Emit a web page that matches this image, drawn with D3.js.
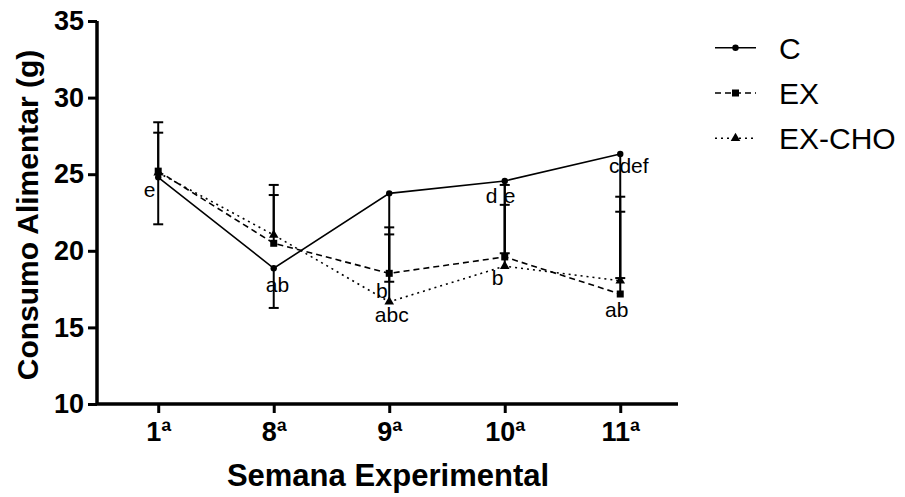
<!DOCTYPE html>
<html>
<head>
<meta charset="utf-8">
<script src="https://cdn.jsdelivr.net/npm/d3@7"></script>
<style>
body { margin: 0; background: #fff; }
text { font-family: Arial, "Liberation Sans", sans-serif; }
</style>
</head>
<body>
<script>
// weeks and group means (g)
var weeks = ["1ª", "8ª", "9ª", "10ª", "11ª"];
var cMean = [24.8, 18.86, 23.75, 24.56, 26.32];
var exMean = [25.2, 20.49, 18.53, 19.6, 17.18];
var choMean = [25.1, 21.03, 16.67, 19.0, 18.05];
// one-sided error bars (C drawn below, EX and EX-CHO above)
var cErr = [3.07, 2.59, 5.77, 4.72, 8.1];
var exErr = [3.19, 3.81, 3.0, 4.7, 6.35];
var choErr = [2.61, 2.61, 4.4, 4.0, 4.5];
var yTicks = [10, 15, 20, 25, 30, 35];

// significance letters: text, week position, value at baseline
var letters = ["e", "ab", "b", "abc", "d", "e", "b", "cdef", "ab"];
var letterPos = [-0.074, 1.032, 1.935, 2.022, 2.887, 3.043, 2.939, 4.074, 3.97];
var letterVal = [23.51, 17.31, 16.92, 15.37, 23.12, 23.12, 17.77, 25.06, 15.70];

var width = 905, height = 497;

var svg = d3.select("body").append("svg")
    .attr("width", width)
    .attr("height", height);

var x = d3.scaleLinear().domain([-0.53, 4.5]).range([97, 678]);
var y = d3.scaleLinear().domain([10, 35]).range([404, 21]);

var series = [
    {name: "C", mean: cMean, err: cErr, dir: -1, dash: null, shape: "circle"},
    {name: "EX", mean: exMean, err: exErr, dir: 1, dash: "6,4", shape: "square"},
    {name: "EX-CHO", mean: choMean, err: choErr, dir: 1, dash: "2,4", shape: "triangle"}
];

function marker(g, shape, cx, cy) {
    if (shape == "circle") {
        g.append("circle").attr("cx", cx).attr("cy", cy).attr("r", 3.2).attr("fill", "#000");
    } else if (shape == "square") {
        g.append("rect").attr("x", cx - 3.5).attr("y", cy - 3.5)
            .attr("width", 7).attr("height", 7).attr("fill", "#000");
    } else {
        g.append("path")
            .attr("d", d3.symbol().type(d3.symbolTriangle).size(40)())
            .attr("transform", "translate(" + cx + "," + cy + ")")
            .attr("fill", "#000");
    }
}

//error bars first
series.forEach(function(s) {
    var g = svg.append("g");
    s.mean.forEach(function(m, i) {
        var end = m + s.dir * s.err[i];
        g.append("line")
            .attr("x1", x(i)).attr("x2", x(i))
            .attr("y1", y(m)).attr("y2", y(end))
            .attr("stroke", "#000").attr("stroke-width", 2);
        g.append("line")
            .attr("x1", x(i) - 5).attr("x2", x(i) + 5)
            .attr("y1", y(end)).attr("y2", y(end))
            .attr("stroke", "#000").attr("stroke-width", 2);
    });
});

//lines and markers
var line = d3.line()
    .x(function(d, i) { return x(i); })
    .y(function(d) { return y(d); });

series.forEach(function(s) {
    svg.append("path")
        .datum(s.mean)
        .attr("d", line)
        .attr("fill", "none")
        .attr("stroke", "#000")
        .attr("stroke-width", 1.6)
        .attr("stroke-dasharray", s.dash);
    var g = svg.append("g");
    s.mean.forEach(function(m, i) { marker(g, s.shape, x(i), y(m)); });
});

//letters
svg.selectAll(".sig")
    .data(letters)
    .enter()
    .append("text")
    .attr("class", "sig")
    .attr("x", function(d, i) { return x(letterPos[i]); })
    .attr("y", function(d, i) { return y(letterVal[i]); })
    .attr("text-anchor", "middle")
    .attr("font-size", 21)
    .text(function(d) { return d; });

//axes
var yAxis = svg.append("g")
    .attr("transform", "translate(97,0)")
    .call(d3.axisLeft(y).tickValues(yTicks).tickSize(9).tickPadding(4));
var xAxis = svg.append("g")
    .attr("transform", "translate(0,404)")
    .call(d3.axisBottom(x).tickValues(d3.range(weeks.length)).tickSize(9).tickPadding(9)
        .tickFormat(function(d) { return weeks[d]; }));

[xAxis, yAxis].forEach(function(a) {
    a.select(".domain").attr("stroke-width", 3.5).attr("d", null);
    a.selectAll(".tick line").attr("stroke-width", 3);
    a.selectAll("text")
        .attr("font-size", 27)
        .attr("font-weight", "bold")
        .attr("font-family", "Arial, 'Liberation Sans', sans-serif")
        .attr("fill", "#000");
});
yAxis.select(".domain").attr("d", "M0,404V21");
xAxis.select(".domain").attr("d", "M97,0H678");

svg.append("text")
    .attr("x", 388).attr("y", 486)
    .attr("text-anchor", "middle")
    .attr("font-size", 31)
    .attr("font-weight", "bold")
    .text("Semana Experimental");

svg.append("text")
    .attr("transform", "translate(38,215) rotate(-90)")
    .attr("text-anchor", "middle")
    .attr("font-size", 30)
    .attr("font-weight", "bold")
    .text("Consumo Alimentar (g)");

//legend
series.forEach(function(s, i) {
    var ly = 47.7 + i * 45.3;
    var g = svg.append("g");
    g.append("line")
        .attr("x1", 715).attr("x2", 756)
        .attr("y1", ly).attr("y2", ly)
        .attr("stroke", "#000").attr("stroke-width", 1.6)
        .attr("stroke-dasharray", s.dash);
    marker(g, s.shape, 735.5, ly);
    g.append("text")
        .attr("x", 779).attr("y", ly + 11)
        .attr("font-size", 30)
        .text(s.name);
});
</script>
</body>
</html>
